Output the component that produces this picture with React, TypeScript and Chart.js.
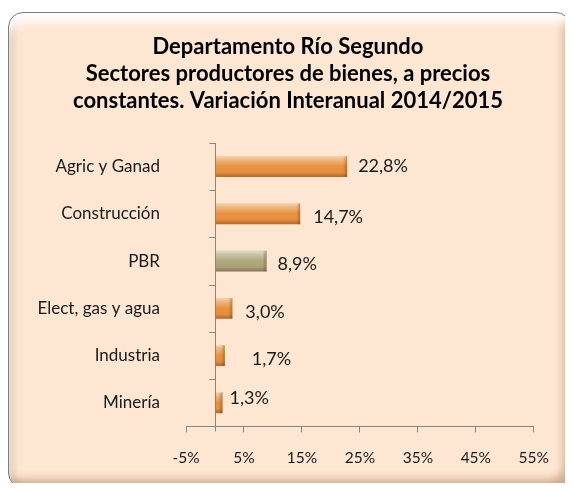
import React, { useEffect, useRef } from "react";
import { Chart, registerables } from "chart.js";

Chart.register(...registerables);

const titleLines = [
  "Departamento Río Segundo",
  "Sectores productores de bienes, a precios",
  "constantes. Variación Interanual 2014/2015",
];
const categories = ["Agric y Ganad", "Construcción", "PBR", "Elect, gas y agua", "Industria", "Minería"];
const values = [22.8, 14.7, 8.9, 3.0, 1.7, 1.3];
const valueLabels = ["22,8%", "14,7%", "8,9%", "3,0%", "1,7%", "1,3%"];
const tickValues = [-5, 5, 15, 25, 35, 45, 55];
const tickLabels = ["-5%", "5%", "15%", "25%", "35%", "45%", "55%"];
const highlightIndex = 2;

// label offsets (px) relative to bar end / bar centre, as in the original
const labelOffsets = [
  [11, 0],
  [13, 3],
  [11, 3],
  [13, 4],
  [27, 4],
  [7, -5],
];

const FONT = "Lato, 'Open Sans', sans-serif";
const ORANGE = "#E8913F";
const OLIVE = "#ADA77C";
const AXIS = "#868686";
const BAR_PCT = 0.44;
const W = 557;
const H = 475;

const drawPlugin = {
  id: "customDraw",
  afterDatasetsDraw(chart: any) {
    const ctx = chart.ctx;
    const xs = chart.scales.x;
    const ys = chart.scales.y;
    const area = chart.chartArea;
    const n = categories.length;
    const step = (area.bottom - area.top) / n;
    // bevel overlays
    values.forEach((v, i) => {
      const xEnd = xs.getPixelForValue(v);
      const base = xs.getPixelForValue(0);
      const cy = ys.getPixelForValue(i);
      const h = step * BAR_PCT;
      const left = Math.min(base, xEnd);
      const w = Math.abs(xEnd - base);
      const top = cy - h / 2;
      if (!isFinite(left) || !isFinite(top) || !isFinite(w) || !isFinite(h) || w <= 0) return;
      ctx.save();
      const g = ctx.createLinearGradient(0, top, 0, top + h);
      g.addColorStop(0, "rgba(255,255,255,0.6)");
      g.addColorStop(0.2, "rgba(255,255,255,0.3)");
      g.addColorStop(0.5, "rgba(255,255,255,0)");
      g.addColorStop(0.8, "rgba(0,0,0,0.03)");
      g.addColorStop(1, "rgba(90,40,0,0.35)");
      ctx.fillStyle = g;
      ctx.fillRect(left, top, w, h);
      const ew = Math.min(4, w);
      const g2 = ctx.createLinearGradient(left + w - ew, 0, left + w, 0);
      g2.addColorStop(0, "rgba(90,40,0,0)");
      g2.addColorStop(1, "rgba(90,40,0,0.35)");
      ctx.fillStyle = g2;
      ctx.fillRect(left + w - ew, top, ew, h);
      ctx.restore();
    });
    // y axis line and ticks at x = 0
    const x0 = Math.round(xs.getPixelForValue(0)) + 0.5;
    ctx.save();
    ctx.strokeStyle = AXIS;
    ctx.lineWidth = 1;
    ctx.beginPath();
    ctx.moveTo(x0, area.top);
    ctx.lineTo(x0, area.bottom + 5);
    for (let i = 0; i <= n; i++) {
      const yy = Math.round(area.top + i * step) + 0.5;
      ctx.moveTo(x0 - 6, yy);
      ctx.lineTo(x0, yy);
    }
    ctx.stroke();
    // category labels
    ctx.fillStyle = "#1a1a1a";
    ctx.font = `17px ${FONT}`;
    ctx.textAlign = "right";
    ctx.textBaseline = "middle";
    categories.forEach((c, i) => {
      ctx.fillText(c, 152, ys.getPixelForValue(i));
    });
    // value labels
    ctx.font = `18px ${FONT}`;
    ctx.textAlign = "left";
    values.forEach((v, i) => {
      const off = labelOffsets[i];
      ctx.fillText(valueLabels[i], xs.getPixelForValue(v) + off[0], ys.getPixelForValue(i) + off[1]);
    });
    // title
    ctx.font = `bold 22px ${FONT}`;
    ctx.textAlign = "center";
    ctx.fillStyle = "#000";
    titleLines.forEach((t, i) => {
      ctx.fillText(t, 280, 39 + i * 27);
    });
    ctx.restore();
  },
};

export default function App() {
  const ref = useRef<HTMLCanvasElement | null>(null);
  useEffect(() => {
    if (!ref.current) return;
    const chart = new Chart(ref.current, {
      type: "bar",
      data: {
        labels: categories,
        datasets: [
          {
            data: values,
            backgroundColor: values.map((_, i) => (i === highlightIndex ? OLIVE : ORANGE)),
            borderWidth: 0,
            barPercentage: BAR_PCT,
            categoryPercentage: 1,
          },
        ],
      },
      options: {
        indexAxis: "y",
        animation: false,
        responsive: false,
        maintainAspectRatio: false,
        layout: { padding: { left: 178, right: 24, top: 135, bottom: 0 } },
        plugins: {
          legend: { display: false },
          title: { display: false },
          tooltip: { enabled: false },
        },
        scales: {
          x: {
            type: "linear",
            min: -5,
            max: 55,
            afterBuildTicks: (scale: any) => {
              scale.ticks = tickValues.map((v) => ({ value: v }));
            },
            grid: {
              drawOnChartArea: false,
              drawTicks: true,
              tickLength: 6,
              color: AXIS,
            },
            border: { display: true, color: AXIS },
            ticks: {
              padding: 16,
              color: "#1a1a1a",
              font: { family: FONT, size: 15.5 },
              maxRotation: 0,
              autoSkip: false,
              callback: (v: any) => {
                const idx = tickValues.indexOf(Number(v));
                return idx >= 0 ? tickLabels[idx] : "";
              },
            },
          },
          y: {
            display: false,
            offset: true,
          },
        },
      },
      plugins: [drawPlugin],
    });
    return () => chart.destroy();
  }, []);

  return (
    <div style={{ position: "relative", width: W, height: H }}>
      <div
        style={{
          position: "absolute",
          left: 0,
          top: 4,
          width: 563,
          height: 476,
          boxSizing: "border-box",
          background: "#FDE6D2",
          border: "1px solid #7f7f7f",
          borderRadius: 15,
          boxShadow:
            "inset 3px 12px 10px -3px rgba(255,255,255,0.95), inset -7px -8px 9px -1px rgba(160,110,80,0.5), inset 6px 0 7px -2px rgba(190,150,120,0.55)",
        }}
      />
      <canvas
        ref={ref}
        width={W}
        height={H}
        style={{ position: "absolute", left: 0, top: 0, width: W, height: H }}
      />
    </div>
  );
}
